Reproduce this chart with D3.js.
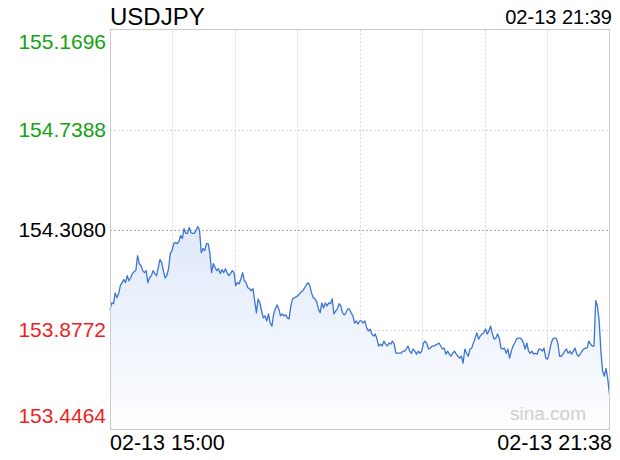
<!DOCTYPE html>
<html><head><meta charset="utf-8">
<script src="https://cdn.jsdelivr.net/npm/d3@7"></script>
<style>body{margin:0;background:#fff;} svg{display:block;font-family:"Liberation Sans",Arial,sans-serif;}</style>
</head><body><svg id="c" width="620" height="460"></svg>
<script>
const symbol = "USDJPY";
const updateTime = "02-13 21:39";
const timeLabels = ["02-13 15:00", "02-13 21:38"];
const yTicks = [155.1696, 154.7388, 154.3080, 153.8772, 153.4464];
const prevClose = 154.3080;
const watermark = "sina.com";
const prices = [
 153.962,153.992,153.988,154.035,154.014,154.031,154.066,154.079,154.092,154.079,154.109,154.087,154.100,154.118,154.126,154.131,154.195,154.161,154.152,154.131,154.122,154.131,154.079,154.100,154.109,154.131,154.118,154.109,154.144,154.178,154.165,154.131,154.100,154.109,154.139,154.204,154.217,154.247,154.252,154.247,154.256,154.282,154.269,154.312,154.291,154.291,154.317,154.295,
 154.291,154.291,154.304,154.321,154.304,154.208,154.226,154.217,154.247,154.247,154.204,154.122,154.161,154.144,154.131,154.139,154.118,154.135,154.122,154.139,154.122,154.109,154.118,154.131,154.122,154.066,154.079,154.074,154.096,154.122,154.087,154.079,154.057,154.053,154.044,154.053,154.001,153.949,154.009,153.992,153.957,153.927,153.936,153.914,153.944,153.905,153.892,153.944,153.966,
 153.983,153.966,153.936,153.944,153.936,153.940,153.927,153.923,153.979,154.009,154.014,154.018,154.022,154.031,154.040,154.044,154.057,154.070,154.079,154.066,154.035,154.014,154.009,153.996,153.966,153.949,153.992,153.970,153.992,153.979,153.992,153.988,154.009,153.944,153.957,153.966,153.988,153.979,153.949,153.940,153.949,153.966,153.966,153.949,153.936,153.905,
 153.914,153.901,153.914,153.914,153.905,153.914,153.884,153.871,153.879,153.858,153.849,153.858,153.836,153.806,153.814,153.806,153.827,153.814,153.806,153.819,153.814,153.827,153.814,153.775,153.775,153.775,153.775,153.784,153.784,153.793,153.806,153.784,153.775,153.793,153.784,153.771,153.784,153.775,153.784,153.819,153.827,153.814,153.793,153.797,153.806,153.806,153.810,153.814,
 153.819,153.806,153.793,153.797,153.771,153.784,153.771,153.762,153.775,153.784,153.771,153.762,153.754,153.762,153.732,153.793,153.775,153.762,153.793,153.797,153.819,153.840,153.862,153.836,153.849,153.858,153.862,153.879,153.858,153.871,153.892,153.858,153.836,153.840,153.858,153.840,153.797,153.793,153.797,153.775,153.793,153.754,153.784,153.806,153.819,153.836,153.840,153.840,153.836,153.819,
 153.793,153.819,153.784,153.775,153.784,153.771,153.775,153.771,153.793,153.793,153.784,153.797,153.754,153.749,153.775,153.814,153.836,153.840,153.840,153.819,153.762,153.762,153.771,153.784,153.793,153.775,153.784,153.771,153.784,153.797,153.771,153.762,153.771,153.784,153.793,153.797,153.797,153.827,153.814,153.806,153.806,154.001,153.979,153.914,153.784,153.697,153.676,153.710,153.663,153.598
];

const svg = d3.select("#c");
const L = 110, R = 609.5, T = 29.5, B = 429.5;

const x = d3.scaleLinear().domain([0, prices.length - 1]).range([L, R]);
const y = d3.scaleLinear().domain([yTicks[yTicks.length - 1], yTicks[0]]).range([B, T]);

const defs = svg.append("defs");
const grad = defs.append("linearGradient").attr("id", "g").attr("x1", 0).attr("y1", 0).attr("x2", 0).attr("y2", 1);
grad.append("stop").attr("offset", 0).attr("stop-color", "#dfe9f9");
grad.append("stop").attr("offset", 1).attr("stop-color", "#fdfeff");

// vertical grid
const vx = d3.scaleLinear().domain([0, 8]).range([L, R]);
svg.append("g").selectAll("line").data(d3.range(1, 8)).join("line")
  .attr("x1", d => Math.round(vx(d)) + 0.5).attr("x2", d => Math.round(vx(d)) + 0.5)
  .attr("y1", T).attr("y2", B)
  .attr("stroke", "#d4d4d4").attr("stroke-dasharray", "2,2");

// horizontal grid
svg.append("g").selectAll("line").data(yTicks.slice(1, -1)).join("line")
  .attr("x1", L).attr("x2", R)
  .attr("y1", d => Math.round(y(d)) + 0.5).attr("y2", d => Math.round(y(d)) + 0.5)
  .attr("stroke", d => d === prevClose ? "#aaaaaa" : "#d4d4d4").attr("stroke-dasharray", "2,2");

// area + line
const area = d3.area().x((d, i) => x(i)).y0(B).y1(d => y(d));
const line = d3.line().x((d, i) => x(i)).y(d => y(d));
svg.append("path").datum(prices).attr("d", area).attr("fill", "url(#g)");
svg.append("path").datum(prices).attr("d", line).attr("fill", "none")
  .attr("stroke", "#3d74d2").attr("stroke-width", 1.3).attr("stroke-linejoin", "round");

// frame
svg.append("rect").attr("x", L + 0.5).attr("y", T).attr("width", R - L - 0.5).attr("height", B - T)
  .attr("fill", "none").attr("stroke", "#cccccc");

// y labels
svg.append("g").selectAll("text").data(yTicks).join("text")
  .attr("x", 106).attr("text-anchor", "end")
  .attr("y", (d, i) => i === 0 ? y(d) + 19 : (i === yTicks.length - 1 ? y(d) - 7 : y(d) + 7))
  .attr("font-size", 21)
  .attr("fill", d => d > prevClose ? "#12a312" : (d < prevClose ? "#f01e1e" : "#000"))
  .text(d => d.toFixed(4));

// title & time
svg.append("text").attr("x", L).attr("y", 25).attr("font-size", 24).attr("fill", "#000").text(symbol);
svg.append("text").attr("x", R + 2.5).attr("y", 24).attr("text-anchor", "end").attr("font-size", 20).attr("fill", "#000").text(updateTime);

// x labels
svg.append("text").attr("x", L).attr("y", 450).attr("font-size", 21.5).text(timeLabels[0]);
svg.append("text").attr("x", R + 2.5).attr("y", 450).attr("text-anchor", "end").attr("font-size", 21.5).text(timeLabels[1]);

// watermark
svg.append("text").attr("x", 586).attr("y", 420).attr("text-anchor", "end").attr("font-size", 19).attr("fill", "#cfcfcf").text(watermark);
</script></body></html>
